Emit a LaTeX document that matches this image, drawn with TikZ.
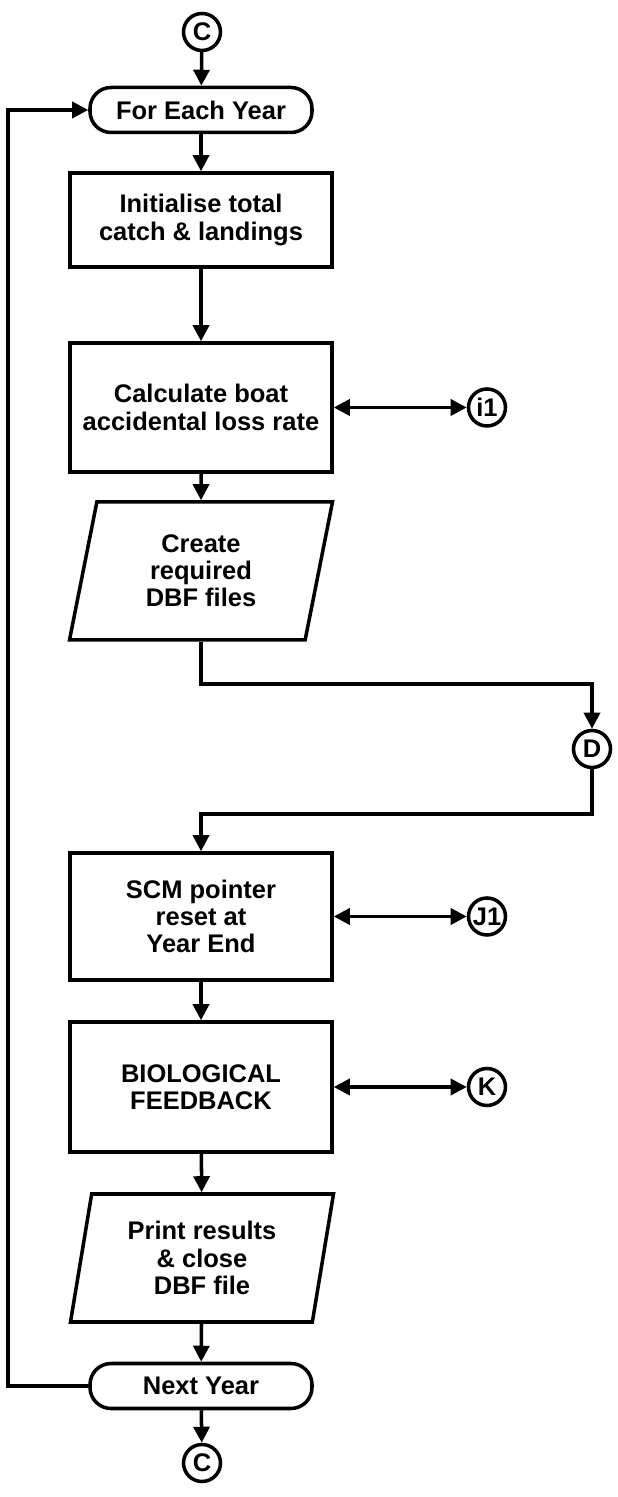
\documentclass[tikz,border=0pt]{standalone}
\usepackage{fontspec}
\setmainfont{Liberation Sans}
\usetikzlibrary{positioning, arrows.meta, shapes.geometric}

\begin{document}
\begin{tikzpicture}[
    every node/.style={font=\fontsize{14.5}{15.5}\selectfont\bfseries},
    term/.style={rectangle, rounded corners=12pt, draw, line width=2pt, minimum width=4.44cm, minimum height=0.9cm, align=center},
    proc/.style={rectangle, draw, line width=2pt, minimum width=5.24cm, align=center},
    para/.style={trapezium, trapezium left angle=72, trapezium right angle=108, trapezium stretches body=true, draw, line width=2pt, minimum width=5.26cm, align=center, inner xsep=2pt},
    conn/.style={circle, draw, line width=2pt, minimum size=0.74cm, inner sep=0pt},
    arrow/.style={-{Triangle[length=0.32cm, width=0.32cm]}, line width=2pt},
    dblarrow/.style={{Triangle[length=0.32cm, width=0.32cm]}-{Triangle[length=0.32cm, width=0.32cm]}, line width=2pt}]

  \useasboundingbox (0,0) rectangle (12.34,29.94);

  \node[conn] (ctop) at (4.04,29.30) {C};
  \node[term] (fey) at (4.02,27.74) {For Each Year};

  \node[proc, minimum height=1.88cm] (init) at (4.02,25.54) {Initialise total\\catch \& landings};
  \node[proc, minimum height=2.58cm] (calc) at (4.02,21.79) {Calculate boat\\accidental loss rate};
  \node[conn] (i1) at (9.74,21.79) {i1};

  \node[para, minimum height=2.76cm] (dbf) at (4.02,18.52) {Create\\required\\DBF files};
  \node[conn] (dd) at (11.84,14.96) {D};

  \node[proc, minimum height=2.54cm] (scm) at (4.02,11.61) {SCM pointer\\reset at\\Year End};
  \node[conn] (j1) at (9.74,11.61) {J1};
  \node[proc, minimum height=2.6cm] (bio) at (4.02,8.20) {BIOLOGICAL\\FEEDBACK};
  \node[conn] (kk) at (9.74,8.20) {K};

  \node[para, minimum height=2.56cm, trapezium left angle=76, trapezium right angle=104] (prt) at (4.04,4.78) {Print results\\\& close\\DBF file};
  \node[term] (ny) at (4.02,2.22) {Next Year};
  \node[conn] (cbot) at (4.04,0.68) {C};

  \coordinate (lp) at (0.16,0);

  \draw[arrow] (ctop) -- (fey);
  \draw[arrow] (fey) -- (init);
  \draw[arrow] (init) -- (calc);
  \draw[arrow] (calc) -- (dbf);
  \draw[arrow] (dbf.south) -- ++(0,-0.84) -| (dd.north);
  \draw[arrow] (dd.south) -- ++(0,-0.9) -| (scm.north);
  \draw[arrow] (scm) -- (bio);
  \draw[arrow] (bio) -- (prt);
  \draw[arrow] (prt) -- (ny);
  \draw[arrow] (ny) -- (cbot);

  \draw[dblarrow] (calc.east) -- (i1.west);
  \draw[dblarrow] (scm.east) -- (j1.west);
  \draw[dblarrow] (bio.east) -- (kk.west);

  \draw[arrow] (ny.west) -- (ny.west -| lp) |- (fey.west);
\end{tikzpicture}
\end{document}
